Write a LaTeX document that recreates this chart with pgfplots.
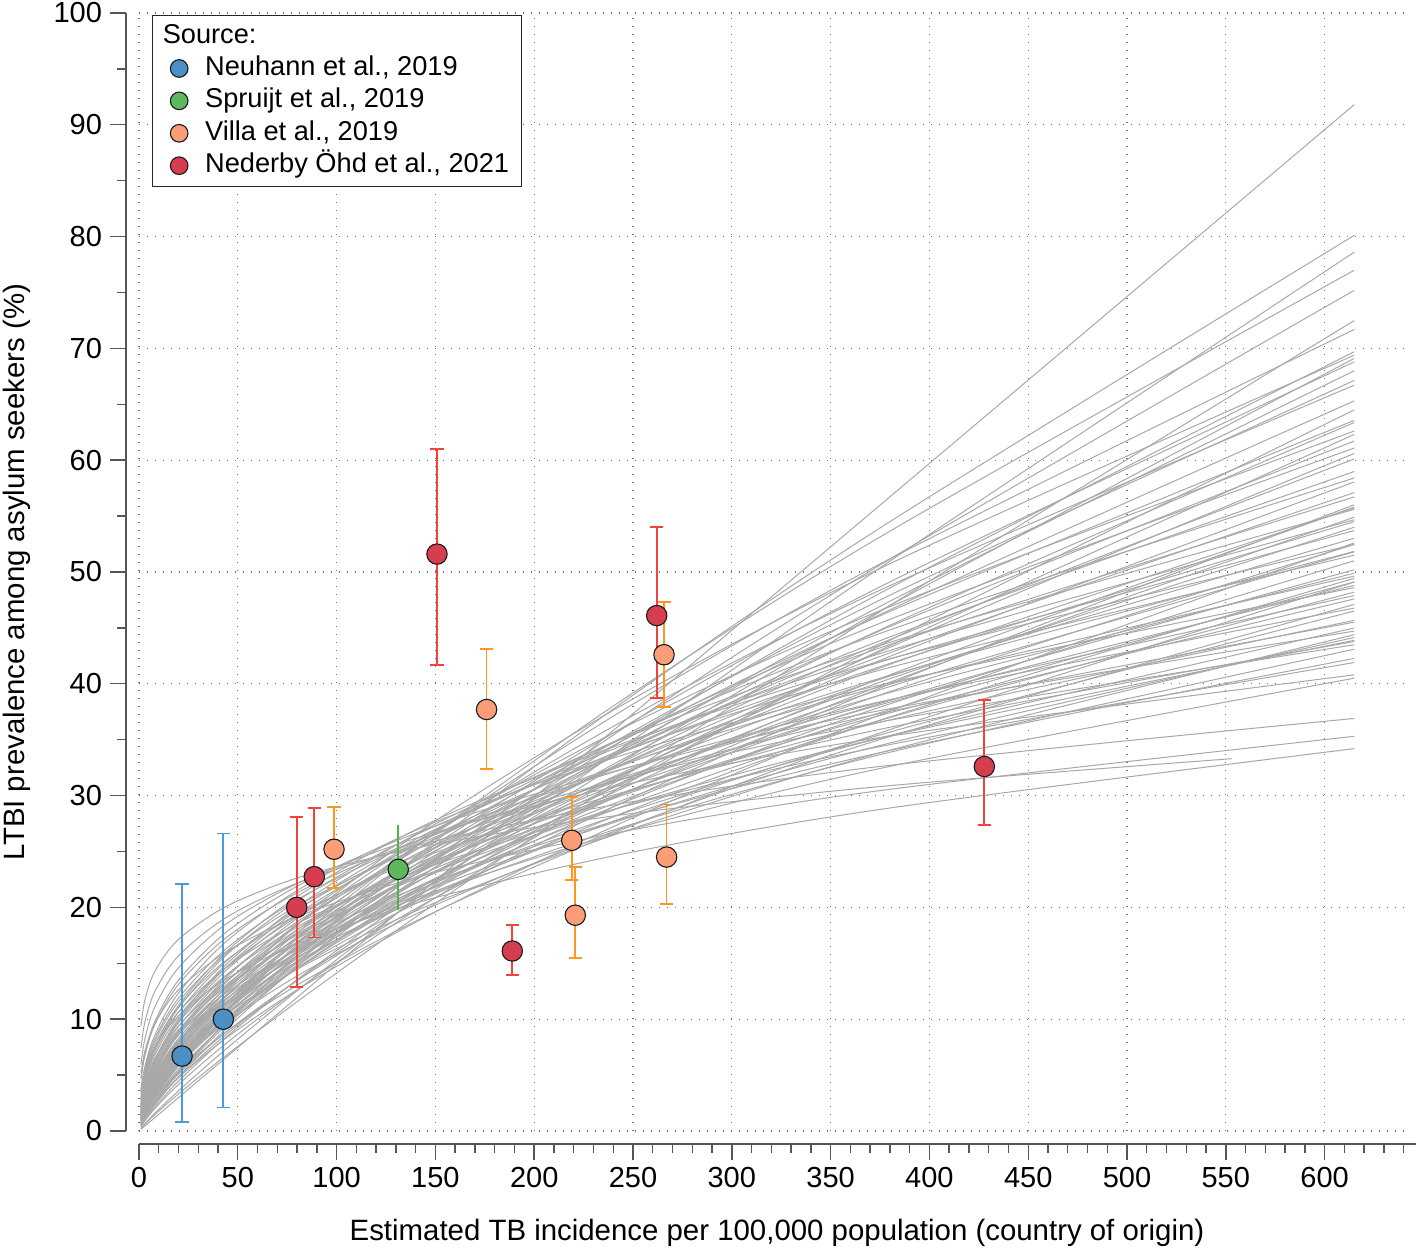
\documentclass[border=0pt]{standalone}
\usepackage{pgfplots}
\pgfplotsset{compat=1.18}
\usepackage{fontspec}
\setmainfont{Liberation Sans}
\definecolor{nhF}{HTML}{4A90C4}\definecolor{nhE}{HTML}{4E9AD6}
\definecolor{spF}{HTML}{5CB85C}\definecolor{spE}{HTML}{4DB546}
\definecolor{viF}{HTML}{FC9D78}\definecolor{viE}{HTML}{FF9620}
\definecolor{neF}{HTML}{D63E50}\definecolor{neE}{HTML}{F2433A}
\definecolor{lineg}{HTML}{A8A8A8}
\definecolor{axg}{HTML}{555555}
\tikzset{gridst/.style={color=black!55, line width=0.6pt, dash pattern=on 0.7pt off 3.3pt}}
\pgfplotsset{
  gl/.style={color=lineg, line width=0.5pt, smooth, forget plot, no markers},
  pt/.style={only marks, mark=*, mark size=5.1pt, mark options={fill=#1, draw=black!90, line width=0.55pt}},
  eb/.style={error bars/.cd, y dir=both, y explicit,
    error bar style={#1, line width=0.9pt},
    error mark options={#1, rotate=90, mark size=3.3pt, line width=0.9pt}},
}
\begin{document}
\begin{tikzpicture}
\begin{axis}[
  scale only axis, width=640.8pt, height=565.5pt,
  xmin=-6.58, xmax=642, ymin=-1.16, ymax=100,
  clip=false,
  axis line style={draw=none},
  tick pos=left, tick align=outside,
  xtick={0,50,...,600}, minor xtick={0,10,...,640},
  ytick={0,10,...,100}, minor ytick={5,15,...,95},
  major tick length=8pt, minor tick length=4.3pt,
  every tick/.style={axg, line width=0.7pt},
  ticklabel style={font=\fontsize{14.5}{17}\selectfont, black},
  /pgf/number format/assume math mode=true,
  xticklabel shift=0pt, yticklabel shift=0.5pt,
  legend style={at={(0.0203,0.9982)}, anchor=north west, draw=black!85, line width=0.5pt, fill=white,
    font=\fontsize{13.6}{16}\selectfont, inner xsep=4.8pt, inner ysep=2.2pt, row sep=0pt, column sep=7pt,
    nodes={inner sep=1.6pt, text height=10pt, text depth=3pt}},
  legend cell align=left,
  legend image post style={mark size=4.4pt},
]
\pgfplotsinvokeforeach{0,50,...,600}{\draw[gridst] (axis cs:#1,0) -- (axis cs:#1,100);}
\pgfplotsinvokeforeach{0,10,...,100}{\draw[gridst] (axis cs:0,#1) -- (axis cs:642,#1);}
\draw[axg, line width=0.7pt] (axis cs:0,-1.16) -- (axis cs:646,-1.16);
\draw[axg, line width=0.7pt] (axis cs:-6.58,0) -- (axis cs:-6.58,100);

\addplot[gl] coordinates {(1,0.15)(3,0.45)(8,1.19)(20,2.99)(45,6.72)(85,12.69)(150,22.39)(250,37.32)(380,56.72)(615,91.80)};
\addplot[gl] coordinates {(1,0.47)(3,1.13)(8,2.48)(20,5.17)(45,9.89)(85,16.45)(150,25.91)(250,38.99)(380,54.50)(615,80.11)};
\addplot[gl] coordinates {(1,0.24)(3,0.65)(8,1.58)(20,3.60)(45,7.47)(85,13.24)(150,22.08)(250,34.97)(380,50.97)(615,78.61)};
\addplot[gl] coordinates {(1,0.62)(3,1.42)(8,2.97)(20,5.89)(45,10.83)(85,17.45)(150,26.72)(250,39.19)(380,53.65)(615,76.99)};
\addplot[gl] coordinates {(1,0.44)(3,1.06)(8,2.33)(20,4.85)(45,9.28)(85,15.44)(150,24.32)(250,36.59)(380,51.15)(615,75.19)};
\addplot[gl] coordinates {(1,0.22)(3,0.60)(8,1.46)(20,3.32)(45,6.89)(85,12.21)(150,20.36)(250,32.24)(380,47.00)(615,72.49)};
\addplot[gl] coordinates {(1,0.80)(3,1.73)(8,3.43)(20,6.51)(45,11.49)(85,17.94)(150,26.70)(250,38.18)(380,51.18)(615,71.69)};
\addplot[gl] coordinates {(1,0.56)(3,1.29)(8,2.69)(20,5.34)(45,9.81)(85,15.80)(150,24.19)(250,35.48)(380,48.57)(615,69.70)};
\addplot[gl] coordinates {(1,1.07)(3,2.18)(8,4.13)(20,7.48)(45,12.68)(85,19.17)(150,27.73)(250,38.65)(380,50.74)(615,69.39)};
\addplot[gl] coordinates {(1,0.41)(3,0.98)(8,2.14)(20,4.46)(45,8.53)(85,14.19)(150,22.35)(250,33.63)(380,47.01)(615,69.10)};
\addplot[gl] coordinates {(1,0.77)(3,1.66)(8,3.29)(20,6.25)(45,11.03)(85,17.22)(150,25.62)(250,36.63)(380,49.11)(615,68.79)};
\addplot[gl] coordinates {(1,0.55)(3,1.26)(8,2.62)(20,5.21)(45,9.57)(85,15.41)(150,23.60)(250,34.62)(380,47.38)(615,68.00)};
\addplot[gl] coordinates {(1,1.03)(3,2.10)(8,3.97)(20,7.20)(45,12.19)(85,18.43)(150,26.66)(250,37.16)(380,48.78)(615,66.71)};
\addplot[gl] coordinates {(1,0.73)(3,1.57)(8,3.13)(20,5.93)(45,10.47)(85,16.34)(150,24.32)(250,34.78)(380,46.61)(615,65.30)};
\addplot[gl] coordinates {(1,0.38)(3,0.91)(8,2.00)(20,4.16)(45,7.96)(85,13.24)(150,20.86)(250,31.39)(380,43.88)(615,64.50)};
\addplot[gl] coordinates {(1,1.33)(3,2.57)(8,4.63)(20,8.01)(45,13.04)(85,19.10)(150,26.85)(250,36.48)(380,46.90)(615,62.61)};
\addplot[gl] coordinates {(1,0.50)(3,1.15)(8,2.40)(20,4.77)(45,8.76)(85,14.12)(150,21.62)(250,31.71)(380,43.41)(615,62.30)};
\addplot[gl] coordinates {(1,0.95)(3,1.94)(8,3.67)(20,6.66)(45,11.27)(85,17.05)(150,24.66)(250,34.37)(380,45.12)(615,61.71)};
\addplot[gl] coordinates {(1,1.30)(3,2.50)(8,4.51)(20,7.82)(45,12.72)(85,18.63)(150,26.20)(250,35.60)(380,45.76)(615,61.09)};
\addplot[gl] coordinates {(1,0.68)(3,1.46)(8,2.90)(20,5.51)(45,9.72)(85,15.17)(150,22.57)(250,32.27)(380,43.26)(615,60.60)};
\addplot[gl] coordinates {(1,0.92)(3,1.89)(8,3.57)(20,6.48)(45,10.98)(85,16.61)(150,24.02)(250,33.48)(380,43.95)(615,60.11)};
\addplot[gl] coordinates {(1,1.71)(3,3.13)(8,5.36)(20,8.88)(45,13.86)(85,19.67)(150,26.88)(250,35.60)(380,44.82)(615,58.41)};
\addplot[gl] coordinates {(1,1.21)(3,2.34)(8,4.22)(20,7.31)(45,11.89)(85,17.42)(150,24.49)(250,33.27)(380,42.77)(615,57.10)};
\addplot[gl] coordinates {(1,0.63)(3,1.35)(8,2.68)(20,5.09)(45,8.98)(85,14.02)(150,20.86)(250,29.83)(380,39.98)(615,56.01)};
\addplot[gl] coordinates {(1,2.24)(3,3.88)(8,6.34)(20,10.03)(45,15.04)(85,20.67)(150,27.46)(250,35.45)(380,43.71)(615,55.60)};
\addplot[gl] coordinates {(1,0.84)(3,1.73)(8,3.26)(20,5.92)(45,10.03)(85,15.17)(150,21.94)(250,30.58)(380,40.14)(615,54.90)};
\addplot[gl] coordinates {(1,1.60)(3,2.92)(8,5.00)(20,8.28)(45,12.93)(85,18.35)(150,25.08)(250,33.21)(380,41.82)(615,54.50)};
\addplot[gl] coordinates {(1,1.15)(3,2.21)(8,3.99)(20,6.91)(45,11.25)(85,16.47)(150,23.16)(250,31.47)(380,40.45)(615,54.00)};
\addplot[gl] coordinates {(1,2.17)(3,3.75)(8,6.13)(20,9.68)(45,14.52)(85,19.96)(150,26.52)(250,34.24)(380,42.21)(615,53.70)};
\addplot[gl] coordinates {(1,0.59)(3,1.27)(8,2.52)(20,4.78)(45,8.43)(85,13.16)(150,19.59)(250,28.01)(380,37.55)(615,52.60)};
\addplot[gl] coordinates {(1,1.52)(3,2.77)(8,4.75)(20,7.87)(45,12.29)(85,17.44)(150,23.84)(250,31.57)(380,39.75)(615,51.80)};
\addplot[gl] coordinates {(1,2.86)(3,4.69)(8,7.30)(20,11.02)(45,15.87)(85,21.14)(150,27.29)(250,34.34)(380,41.46)(615,51.50)};
\addplot[gl] coordinates {(1,1.08)(3,2.09)(8,3.77)(20,6.53)(45,10.62)(85,15.55)(150,21.87)(250,29.71)(380,38.20)(615,51.00)};
\addplot[gl] coordinates {(1,2.01)(3,3.48)(8,5.69)(20,9.00)(45,13.50)(85,18.55)(150,24.64)(250,31.81)(380,39.22)(615,49.89)};
\addplot[gl] coordinates {(1,0.76)(3,1.54)(8,2.92)(20,5.30)(45,8.97)(85,13.56)(150,19.62)(250,27.35)(380,35.90)(615,49.10)};
\addplot[gl] coordinates {(1,3.73)(3,5.78)(8,8.56)(20,12.34)(45,17.08)(85,22.02)(150,27.64)(250,33.91)(380,40.09)(615,48.60)};
\addplot[gl] coordinates {(1,1.41)(3,2.58)(8,4.42)(20,7.32)(45,11.44)(85,16.23)(150,22.18)(250,29.37)(380,36.98)(615,48.20)};
\addplot[gl] coordinates {(1,2.66)(3,4.37)(8,6.79)(20,10.25)(45,14.76)(85,19.66)(150,25.38)(250,31.94)(380,38.56)(615,47.89)};
\addplot[gl] coordinates {(1,1.00)(3,1.93)(8,3.48)(20,6.03)(45,9.81)(85,14.37)(150,20.20)(250,27.44)(380,35.28)(615,47.10)};
\addplot[gl] coordinates {(1,3.49)(3,5.41)(8,8.01)(20,11.56)(45,15.99)(85,20.62)(150,25.88)(250,31.75)(380,37.53)(615,45.51)};
\addplot[gl] coordinates {(1,1.82)(3,3.14)(8,5.13)(20,8.11)(45,12.17)(85,16.73)(150,22.22)(250,28.69)(380,35.37)(615,44.99)};
\addplot[gl] coordinates {(1,4.72)(3,6.94)(8,9.78)(20,13.48)(45,17.90)(85,22.36)(150,27.28)(250,32.62)(380,37.77)(615,44.71)};
\addplot[gl] coordinates {(1,1.30)(3,2.38)(8,4.07)(20,6.75)(45,10.54)(85,14.95)(150,20.43)(250,27.06)(380,34.06)(615,44.39)};
\addplot[gl] coordinates {(1,2.44)(3,4.00)(8,6.22)(20,9.39)(45,13.53)(85,18.01)(150,23.26)(250,29.27)(380,35.34)(615,43.89)};
\addplot[gl] coordinates {(1,4.59)(3,6.75)(8,9.51)(20,13.11)(45,17.41)(85,21.75)(150,26.54)(250,31.74)(380,36.74)(615,43.49)};
\addplot[gl] coordinates {(1,1.74)(3,3.01)(8,4.92)(20,7.77)(45,11.66)(85,16.02)(150,21.28)(250,27.47)(380,33.87)(615,43.09)};
\addplot[gl] coordinates {(1,3.21)(3,4.98)(8,7.38)(20,10.64)(45,14.72)(85,18.99)(150,23.83)(250,29.23)(380,34.56)(615,41.90)};
\addplot[gl] coordinates {(1,5.94)(3,8.26)(8,11.09)(20,14.60)(45,18.62)(85,22.53)(150,26.72)(250,31.14)(380,35.32)(615,40.80)};
\addplot[gl] coordinates {(1,2.25)(3,3.69)(8,5.74)(20,8.67)(45,12.48)(85,16.62)(150,21.46)(250,27.01)(380,32.61)(615,40.50)};
\addplot[gl] coordinates {(1,7.41)(3,9.75)(8,12.46)(20,15.67)(45,19.19)(85,22.50)(150,25.93)(250,29.46)(380,32.71)(615,36.90)};
\addplot[gl] coordinates {(1,5.14)(3,7.15)(8,9.59)(20,12.63)(45,16.11)(85,19.50)(150,23.12)(250,26.95)(380,30.56)(615,35.30)};
\addplot[gl] coordinates {(1,3.61)(3,5.31)(8,7.48)(20,10.31)(45,13.69)(85,17.11)(150,20.87)(250,24.96)(380,28.89)(615,34.20)};
\addplot[gl] coordinates {(1,9.42)(3,11.73)(8,14.27)(20,17.14)(45,20.16)(85,22.90)(150,25.65)(250,28.41)(380,30.89)(553,33.30)};
\addplot[gl] coordinates {(1,2.54)(3,4.16)(8,6.47)(20,9.77)(45,14.08)(85,18.74)(150,24.2)(250,30.46)(380,36.77)(615,45.67)};
\addplot[gl] coordinates {(1,1.92)(3,3.32)(8,5.43)(20,8.58)(45,12.87)(85,17.69)(150,23.5)(250,30.34)(380,37.40)(615,47.59)};
\addplot[gl] coordinates {(1,1.44)(3,2.63)(8,4.51)(20,7.46)(45,11.65)(85,16.54)(150,22.6)(250,29.93)(380,37.68)(615,49.11)};
\addplot[gl] coordinates {(1,1.11)(3,2.15)(8,3.88)(20,6.72)(45,10.93)(85,16.00)(150,22.5)(250,30.57)(380,39.30)(615,52.46)};
\addplot[gl] coordinates {(1,2.09)(3,3.62)(8,5.91)(20,9.35)(45,14.02)(85,19.27)(150,25.6)(250,33.05)(380,40.75)(615,51.84)};
\addplot[gl] coordinates {(1,1.55)(3,2.84)(8,4.87)(20,8.06)(45,12.58)(85,17.85)(150,24.4)(250,32.31)(380,40.68)(615,53.02)};
\addplot[gl] coordinates {(1,1.25)(3,2.42)(8,4.36)(20,7.55)(45,12.29)(85,17.99)(150,25.3)(250,34.37)(380,44.19)(615,58.99)};
\addplot[gl] coordinates {(1,0.89)(3,1.83)(8,3.45)(20,6.26)(45,10.61)(85,16.04)(150,23.2)(250,32.34)(380,42.45)(615,58.05)};
\addplot[gl] coordinates {(1,2.76)(3,4.52)(8,7.03)(20,10.62)(45,15.30)(85,20.37)(150,26.3)(250,33.10)(380,39.96)(615,49.63)};
\addplot[gl] coordinates {(1,3.36)(3,5.21)(8,7.71)(20,11.12)(45,15.38)(85,19.84)(150,24.9)(250,30.54)(380,36.11)(615,43.78)};
\addplot[gl] coordinates {(1,1.78)(3,3.08)(8,5.04)(20,7.96)(45,11.94)(85,16.41)(150,21.8)(250,28.14)(380,34.70)(615,44.14)};
\addplot[gl] coordinates {(1,1.66)(3,3.04)(8,5.20)(20,8.62)(45,13.46)(85,19.10)(150,26.1)(250,34.56)(380,43.52)(615,56.71)};
\addplot[gl] coordinates {(1,0.98)(3,2.00)(8,3.78)(20,6.86)(45,11.61)(85,17.56)(150,25.4)(250,35.40)(380,46.47)(615,63.56)};
\addplot[gl] coordinates {(1,0.71)(3,1.53)(8,3.03)(20,5.76)(45,10.16)(85,15.86)(150,23.6)(250,33.75)(380,45.23)(615,63.37)};
\addplot[gl] coordinates {(1,1.05)(3,2.03)(8,3.65)(20,6.33)(45,10.29)(85,15.08)(150,21.2)(250,28.80)(380,37.03)(615,49.43)};
\addplot[gl] coordinates {(1,2.35)(3,3.85)(8,5.99)(20,9.05)(45,13.03)(85,17.35)(150,22.4)(250,28.19)(380,34.03)(615,42.27)};
\addplot[gl] coordinates {(1,1.97)(3,3.41)(8,5.57)(20,8.80)(45,13.20)(85,18.14)(150,24.1)(250,31.11)(380,38.36)(615,48.80)};
\addplot[gl] coordinates {(1,1.36)(3,2.49)(8,4.27)(20,7.07)(45,11.04)(85,15.66)(150,21.4)(250,28.34)(380,35.68)(615,46.50)};
\addplot[gl] coordinates {(1,3.59)(3,5.56)(8,8.24)(20,11.88)(45,16.43)(85,21.19)(150,26.6)(250,32.63)(380,38.58)(615,46.77)};
\addplot[gl] coordinates {(1,1.18)(3,2.28)(8,4.12)(20,7.13)(45,11.61)(85,17.00)(150,23.9)(250,32.47)(380,41.74)(615,55.73)};
\addplot[gl] coordinates {(1,2.21)(3,3.82)(8,6.24)(20,9.86)(45,14.79)(85,20.33)(150,27.0)(250,34.86)(380,42.98)(615,54.67)};
\addplot[gl] coordinates {(1,2.92)(3,4.78)(8,7.43)(20,11.23)(45,16.17)(85,21.53)(150,27.8)(250,34.99)(380,42.24)(615,52.46)};
\addplot[gl] coordinates {(1,1.47)(3,2.69)(8,4.61)(20,7.63)(45,11.91)(85,16.90)(150,23.1)(250,30.59)(380,38.51)(615,50.20)};
\addplot[gl] coordinates {(1,0.86)(3,1.75)(8,3.32)(20,6.02)(45,10.20)(85,15.42)(150,22.3)(250,31.08)(380,40.80)(615,55.80)};
\addplot[gl] coordinates {(1,0.75)(3,1.62)(8,3.21)(20,6.10)(45,10.76)(85,16.80)(150,25.0)(250,35.75)(380,47.92)(615,67.13)};

\addlegendimage{empty legend}
\addlegendentry{\hspace*{-21.2pt}Source:}

\addplot[pt=nhF, eb=nhE]
  coordinates {(21.8,6.7) += (0,15.4) -= (0,5.87) (42.7,10.0) += (0,16.6) -= (0,7.9)};
\addlegendentry{Neuhann et al., 2019}

\addplot[pt=spF, error bars/.cd, y dir=both, y explicit,
  error bar style={spE, line width=0.9pt}, error mark=none]
  coordinates {(131.2,23.4) += (0,4.0) -= (0,3.6)};
\addlegendentry{Spruijt et al., 2019}

\addplot[pt=viF, eb=viE]
  coordinates {
  (98.7,25.2) += (0,3.8) -= (0,3.5)
  (175.9,37.7) += (0,5.4) -= (0,5.3)
  (219.0,26.0) += (0,3.85) -= (0,3.55)
  (220.8,19.3) += (0,4.3) -= (0,3.8)
  (265.7,42.6) += (0,4.7) -= (0,4.65)
  (267.0,24.5) += (0,4.7) -= (0,4.2)};
\addlegendentry{Villa et al., 2019}

\addplot[pt=neF, eb=neE]
  coordinates {
  (79.8,20.0) += (0,8.1) -= (0,7.1)
  (88.7,22.75) += (0,6.15) -= (0,5.45)
  (150.8,51.6) += (0,9.4) -= (0,9.9)
  (188.9,16.1) += (0,2.3) -= (0,2.15)
  (262.0,46.1) += (0,7.9) -= (0,7.4)
  (427.8,32.6) += (0,5.95) -= (0,5.2)};
\addlegendentry{Nederby Öhd et al., 2021}

\node[font=\fontsize{14.7}{17}\selectfont] at (axis cs:322.9,-9.12) {Estimated TB incidence per 100,000 population (country of origin)};
\node[rotate=90, font=\fontsize{14.7}{17}\selectfont] at (axis cs:-61.7,50.0) {LTBI prevalence among asylum seekers (\%)};
\coordinate (bbsw) at (axis cs:-70.34,-10.64);
\coordinate (bbne) at (axis cs:647.27,101.16);
\end{axis}
\pgfresetboundingbox
\path[use as bounding box] (bbsw) rectangle (bbne);
\end{tikzpicture}
\end{document}
